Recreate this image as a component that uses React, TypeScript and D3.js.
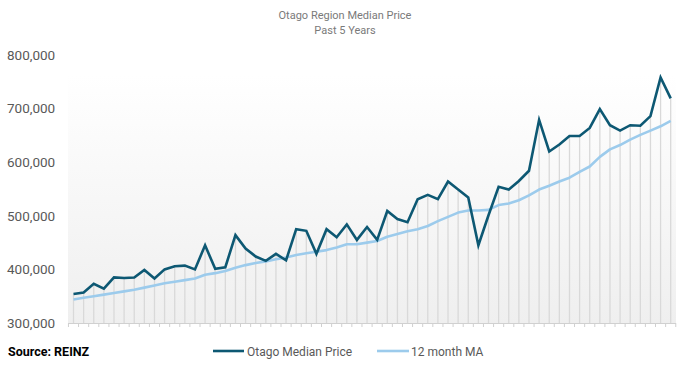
import React, { useEffect } from "react";
import * as d3 from "d3";

const medianPrice: number[] = [
  354000, 357000, 373000, 364000, 385000, 384000, 385000, 399000, 383000, 400000,
  406000, 407000, 400000, 445000, 401000, 404000, 464000, 439000, 424000, 416000,
  429000, 417000, 475000, 472000, 429000, 475000, 460000, 484000, 455000, 479000,
  455000, 509000, 494000, 488000, 531000, 539000, 531000, 564000, 549000, 534000,
  445000, 501000, 554000, 549000, 565000, 584000, 679000, 620000, 633000, 649000,
  649000, 664000, 699000, 669000, 659000, 669000, 668000, 686000, 758000, 719000,
];

const movingAvg: number[] = [
  344000, 347000, 350000, 353000, 356000, 359000, 362000, 366000, 370000, 374000,
  377000, 380000, 383000, 390000, 393000, 397000, 403000, 408000, 412000, 415000,
  419000, 422000, 427000, 430000, 433000, 436000, 441000, 447000, 447000, 450000,
  453000, 461000, 466000, 471000, 475000, 481000, 490000, 498000, 506000, 510000,
  510000, 511000, 520000, 523000, 529000, 538000, 549000, 556000, 564000, 571000,
  582000, 592000, 610000, 624000, 632000, 642000, 651000, 659000, 667000, 677000,
];

const yTicks: number[] = [300000, 400000, 500000, 600000, 700000, 800000];
const titleLines: string[] = ["Otago Region Median Price", "Past 5 Years"];
const seriesNames: string[] = ["Otago Median Price", "12 month MA"];
const sourceText = "Source: REINZ";

const W = 688;
const H = 365;
const plotLeft = 68;
const plotRight = 676;
const firstX = 73.5;
const lastX = 670.7;
const yTop = 55;
const yBottom = 323;

const darkColor = "#0d5873";
const lightColor = "#9ccbec";
const font = "Roboto, 'Open Sans', Arial, sans-serif";

export default function App() {
  useEffect(() => {
    document.body.style.margin = "0";
  }, []);

  const idx = d3.range(medianPrice.length);
  const x = d3.scaleLinear().domain([0, medianPrice.length - 1]).range([firstX, lastX]);
  const y = d3.scaleLinear().domain([300000, 800000]).range([yBottom, yTop]);
  const step = x(1) - x(0);

  const line = d3
    .line<number>()
    .x((_, i) => x(i))
    .y((d) => y(d));

  const tickXs = d3.range(medianPrice.length + 1).map((k) => x(k) - step / 2);
  const fmt = d3.format(",");

  return (
    <svg
      width={W}
      height={H}
      style={{ position: "absolute", left: 0, top: 0, background: "#fff" }}
      fontFamily={font}
    >
      <defs>
        <linearGradient id="bgGrad" x1="0" y1="0" x2="0" y2="1">
          <stop offset="0%" stopColor="#ffffff" />
          <stop offset="100%" stopColor="#efefef" />
        </linearGradient>
      </defs>

      {titleLines.map((t, i) => (
        <text
          key={t}
          x={345}
          y={19 + i * 14.5}
          textAnchor="middle"
          fontSize={11}
          fill="#7a7a7a"
        >
          {t}
        </text>
      ))}

      <rect
        x={plotLeft}
        y={yTop + 20}
        width={plotRight - plotLeft}
        height={yBottom - yTop - 20}
        fill="url(#bgGrad)"
      />

      {yTicks.map((t) => (
        <text key={t} x={7} y={y(t)} dy="0.35em" fontSize={13.5} fill="#595959">
          {fmt(t)}
        </text>
      ))}

      {/* drop lines */}
      {idx.map((i) => (
        <line
          key={"d" + i}
          x1={x(i)}
          x2={x(i)}
          y1={y(medianPrice[i])}
          y2={yBottom}
          stroke="#d9d9d9"
          strokeWidth={1.3}
        />
      ))}

      {/* axis */}
      <line x1={plotLeft} x2={plotRight} y1={yBottom + 0.5} y2={yBottom + 0.5} stroke="#d0d0d0" strokeWidth={1} />
      {tickXs.map((tx, k) => (
        <line key={"t" + k} x1={tx} x2={tx} y1={yBottom} y2={yBottom + 4} stroke="#d0d0d0" strokeWidth={1} />
      ))}

      <path d={line(movingAvg) || ""} fill="none" stroke={lightColor} strokeWidth={2.6} strokeLinejoin="round" />
      <path d={line(medianPrice) || ""} fill="none" stroke={darkColor} strokeWidth={2.6} strokeLinejoin="miter" />

      <text x={8} y={356} fontSize={12.5} fontWeight="bold" fill="#000">
        {sourceText}
      </text>

      <line x1={213} x2={244} y1={351} y2={351} stroke={darkColor} strokeWidth={2.6} />
      <text x={247} y={355.5} fontSize={12} fill="#595959">
        {seriesNames[0]}
      </text>
      <line x1={377} x2={409} y1={351} y2={351} stroke={lightColor} strokeWidth={2.6} />
      <text x={411} y={355.5} fontSize={12} fill="#595959">
        {seriesNames[1]}
      </text>
    </svg>
  );
}
